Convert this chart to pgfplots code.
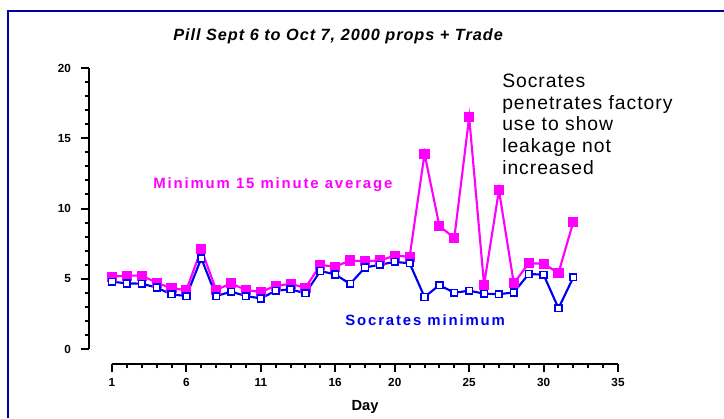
\documentclass[border=0pt]{standalone}
\usepackage{pgfplots}
\pgfplotsset{compat=1.18}
\usepackage{fontspec}
\setmainfont{Liberation Sans}
\newfontfamily\spacedfont{Liberation Sans}[LetterSpace=12.5]
\newfontfamily\titlefont{Liberation Sans}[LetterSpace=6]
\newfontfamily\notefont{Liberation Sans}[LetterSpace=5]
\definecolor{mag}{RGB}{255,0,255}
\definecolor{blu}{RGB}{0,0,240}
\definecolor{frame}{RGB}{0,0,165}
\newcommand\PX[2]{({#1*0.75pt},{(418-#2)*0.75pt})}
\begin{document}
\begin{tikzpicture}
\useasboundingbox (0,0) rectangle (543pt,313.5pt);
\draw[frame, line width=1.6pt] (6pt,0) -- (6pt,305.5pt) -- (543pt,305.5pt);
\begin{axis}[
  at={(84pt,51.75pt)}, anchor=south west,
  scale only axis, width=379.5pt, height=210.75pt,
  xmin=1, xmax=35, ymin=0, ymax=20,
  axis lines=left,
  axis x line shift=11.25pt,
  axis y line shift=17.25pt,
  axis line style={line width=1.8pt, -},
  every tick/.style={black, line width=1.5pt},
  tick align=outside,
  major tick length=6pt, minor tick length=3.2pt,
  xtick={1,6,11,16,20,25,30,35},
  minor xtick={1,...,35},
  ytick={0,5,10,15,20},
  minor ytick={0,...,20},
  /pgf/number format/assume math mode=true,
  ticklabel style={font=\bfseries\fontsize{8.8}{10}\selectfont},
  yticklabel style={xshift=-4pt},
  xticklabel style={yshift=-1pt},
  xlabel={Day},
  xlabel style={font=\bfseries\fontsize{11}{12}\selectfont, yshift=-4pt},
  clip=false,
]
\addplot[mag, line width=1.6pt, mark=square*, mark size=3pt, mark options={solid, fill=mag}] coordinates {
(1,5.15) (2,5.22) (3,5.22) (4,4.72) (5,4.32) (6,4.2) (7,7.1) (8,4.2) (9,4.67) (10,4.2)
(11,4.06) (12,4.5) (13,4.63) (14,4.37) (15,5.98) (16,5.86) (17,6.3) (18,6.24) (19,6.3) (20,6.65)
(21,6.57) (22,13.9) (23,8.75) (24,7.9) (25,16.5) (26,4.58) (27,11.3) (28,4.67) (29,6.1) (30,6.07)
(31,5.4) (32,9.06)};
\addplot[blu, line width=1.6pt, mark=square*, mark size=2.5pt, mark options={solid, fill=white, draw=blu, line width=1.2pt}] coordinates {
(1,4.79) (2,4.67) (3,4.65) (4,4.37) (5,3.89) (6,3.77) (7,6.45) (8,3.77) (9,4.08) (10,3.77)
(11,3.6) (12,4.15) (13,4.25) (14,3.96) (15,5.55) (16,5.31) (17,4.63) (18,5.8) (19,6.0) (20,6.2)
(21,6.1) (22,3.7) (23,4.55) (24,4.0) (25,4.15) (26,3.94) (27,3.9) (28,4.03) (29,5.34) (30,5.29)
(31,2.9) (32,5.1)};
\end{axis}
\node[anchor=base west, inner sep=0pt] at \PX{173}{41} {\titlefont\bfseries\itshape\fontsize{12.2}{14}\selectfont Pill Sept 6 to Oct 7, 2000 props + Trade};
\node[anchor=base west, inner sep=0pt, text=mag] at \PX{153}{188.7} {\spacedfont\bfseries\fontsize{11.2}{13}\selectfont Minimum 15 minute average};
\node[anchor=base west, inner sep=0pt, text=blu] at \PX{345}{325.7} {\spacedfont\bfseries\fontsize{11.2}{13}\selectfont Socrates minimum};
\node[anchor=base west, inner sep=0pt] at \PX{502}{87.5} {\notefont\fontsize{14.5}{16}\selectfont Socrates};
\node[anchor=base west, inner sep=0pt] at \PX{502}{109.3} {\notefont\fontsize{14.5}{16}\selectfont penetrates factory};
\node[anchor=base west, inner sep=0pt] at \PX{502}{131} {\notefont\fontsize{14.5}{16}\selectfont use to show};
\node[anchor=base west, inner sep=0pt] at \PX{502}{152.8} {\notefont\fontsize{14.5}{16}\selectfont leakage not};
\node[anchor=base west, inner sep=0pt] at \PX{502}{175} {\notefont\fontsize{14.5}{16}\selectfont increased};
\end{tikzpicture}
\end{document}
